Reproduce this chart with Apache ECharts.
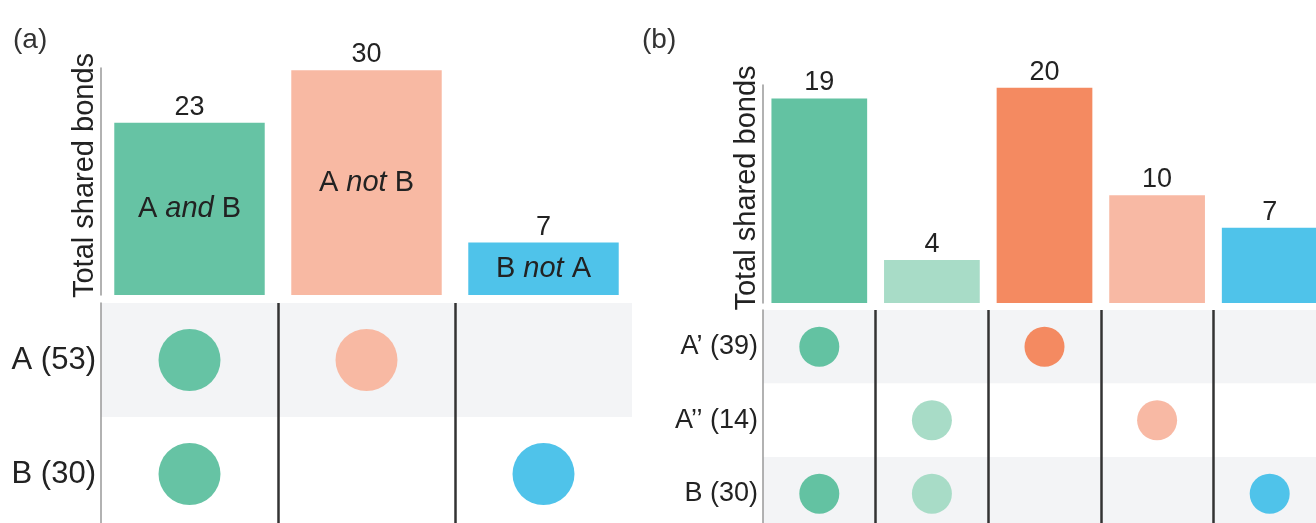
<!DOCTYPE html>
<html>
<head>
<meta charset="utf-8">
<title>Total shared bonds</title>
<script src="https://cdn.jsdelivr.net/npm/echarts@6.0.0/dist/echarts.min.js"></script>
<style>
  html, body { margin: 0; padding: 0; background: #fff; }
  #chart { width: 1316px; height: 523px; }
</style>
</head>
<body>
<div id="chart"></div>
<script>
  // ---- data (a) ----
  const aSets = ['A and B', 'A not B', 'B not A']
  const aCounts = [23, 30, 7]
  const aRows = ['A (53)', 'B (30)']
  // 1 = the row set takes part in that column
  const aMember = [
    [1, 1, 0],
    [1, 0, 1]
  ]

  // ---- data (b) ----
  const bSets = ['A1 and B', 'A2 and B', 'A1 not B', 'A2 not B', 'B only']
  const bCounts = [19, 4, 20, 10, 7]
  const bRows = ['A’ (39)', 'A’’ (14)', 'B (30)']
  const bMember = [
    [1, 0, 1, 0, 0],
    [0, 1, 0, 1, 0],
    [1, 1, 0, 0, 1]
  ]

  // colours per column
  const aColors = ['#66c3a4', '#f8b9a3', '#4fc3ea']
  const bColors = ['#63c2a2', '#a8dcc7', '#f48a61', '#f8b9a4', '#4fc3ea']

  const font = '"Liberation Sans", Arial, sans-serif'
  const ink = '#222'

  // labels written inside the bars of (a), with the middle word in italic
  const aInside = {
    'A and B': '{n|A }{i|and}{n| B}',
    'A not B': '{n|A }{i|not}{n| B}',
    'B not A': '{n|B }{i|not}{n| A}'
  }

  // turn a membership table into scatter points [col, row]
  function dots(member, colors) {
    let out = []
    for (let r = 0; r < member.length; r++) {
      for (let c = 0; c < member[r].length; c++) {
        if (member[r][c]) {
          out.push({ value: [c, r], itemStyle: { color: colors[c], opacity: 1 } })
        }
      }
    }
    return out
  }

  function barAxisX(gi, cats) {
    return {
      type: 'category', gridIndex: gi, data: cats,
      axisLine: { show: false }, axisTick: { show: false }, axisLabel: { show: false }
    }
  }
  function barAxisY(gi, max) {
    return {
      type: 'value', gridIndex: gi, min: 0, max: max,
      name: 'Total shared bonds', nameLocation: 'middle', nameRotate: 90, nameGap: 2,
      nameTextStyle: { fontSize: 29, color: ink, fontFamily: font, padding: [0, 0, 0, 12] },
      axisLine: { show: true, lineStyle: { color: '#999', width: 1.5 } },
      axisTick: { show: false }, axisLabel: { show: false }, splitLine: { show: false }
    }
  }
  function matAxisX(gi, cats) {
    return {
      type: 'category', gridIndex: gi, data: cats,
      axisLine: { show: false }, axisTick: { show: false }, axisLabel: { show: false },
      splitLine: {
        show: true, showMinLine: false, showMaxLine: false,
        lineStyle: { color: '#333', width: 2.5 }
      }
    }
  }
  function matAxisY(gi, rows, size) {
    return {
      type: 'category', gridIndex: gi, data: rows, inverse: true,
      axisLine: { show: true, lineStyle: { color: '#999', width: 1.5 } },
      axisTick: { show: false },
      axisLabel: { fontSize: size, color: ink, fontFamily: font, margin: 5 },
      splitArea: { show: true, areaStyle: { color: ['#f3f4f6', '#ffffff'] } }
    }
  }

  const chart = echarts.init(document.getElementById('chart'))
  chart.setOption({
    animation: false,
    textStyle: { fontFamily: font },
    title: [
      { text: '(a)', left: 8, top: 21, textStyle: { fontSize: 28, fontWeight: 'normal', color: '#333', fontFamily: font } },
      { text: '(b)', left: 637, top: 21, textStyle: { fontSize: 28, fontWeight: 'normal', color: '#333', fontFamily: font } }
    ],
    // the (b) grids run a little past the right edge, the matrices past the bottom,
    // so the grids must not be squeezed back into the page
    grid: [
      { left: 101, top: 68, width: 531, height: 227, outerBoundsMode: 'none' },
      { left: 101, top: 303, width: 531, height: 228, outerBoundsMode: 'none' },
      { left: 763, top: 85, width: 563, height: 218, outerBoundsMode: 'none' },
      { left: 763, top: 310, width: 563, height: 220.5, outerBoundsMode: 'none' }
    ],
    xAxis: [
      barAxisX(0, aSets), matAxisX(1, aSets),
      barAxisX(2, bSets), matAxisX(3, bSets)
    ],
    yAxis: [
      barAxisY(0, 30.3), matAxisY(1, aRows, 31),
      barAxisY(2, 20.25), matAxisY(3, bRows, 27)
    ],
    series: [
      {
        // (a) bars, value on top and the set name inside
        type: 'bar', xAxisIndex: 0, yAxisIndex: 0, barCategoryGap: '15%',
        data: aCounts.map((v, i) => ({ value: v, itemStyle: { color: aColors[i] } })),
        label: { show: true, position: 'top', distance: 2, fontSize: 27, color: ink }
      },
      {
        // same bars again, only to carry the inside text
        type: 'bar', xAxisIndex: 0, yAxisIndex: 0, barCategoryGap: '15%', barGap: '-100%',
        data: aCounts, itemStyle: { color: 'rgba(0,0,0,0)' },
        label: {
          show: true, position: 'inside',
          formatter: p => aInside[p.name],
          rich: {
            n: { fontSize: 29, color: ink, fontFamily: font },
            i: { fontSize: 29, color: ink, fontFamily: font, fontStyle: 'italic' }
          }
        }
      },
      {
        type: 'scatter', xAxisIndex: 1, yAxisIndex: 1, symbolSize: 62,
        data: dots(aMember, aColors)
      },
      {
        type: 'bar', xAxisIndex: 2, yAxisIndex: 2, barCategoryGap: '15%',
        data: bCounts.map((v, i) => ({ value: v, itemStyle: { color: bColors[i] } })),
        label: { show: true, position: 'top', distance: 2, fontSize: 27, color: ink }
      },
      {
        type: 'scatter', xAxisIndex: 3, yAxisIndex: 3, symbolSize: 40,
        data: dots(bMember, bColors)
      }
    ]
  })
</script>
</body>
</html>
